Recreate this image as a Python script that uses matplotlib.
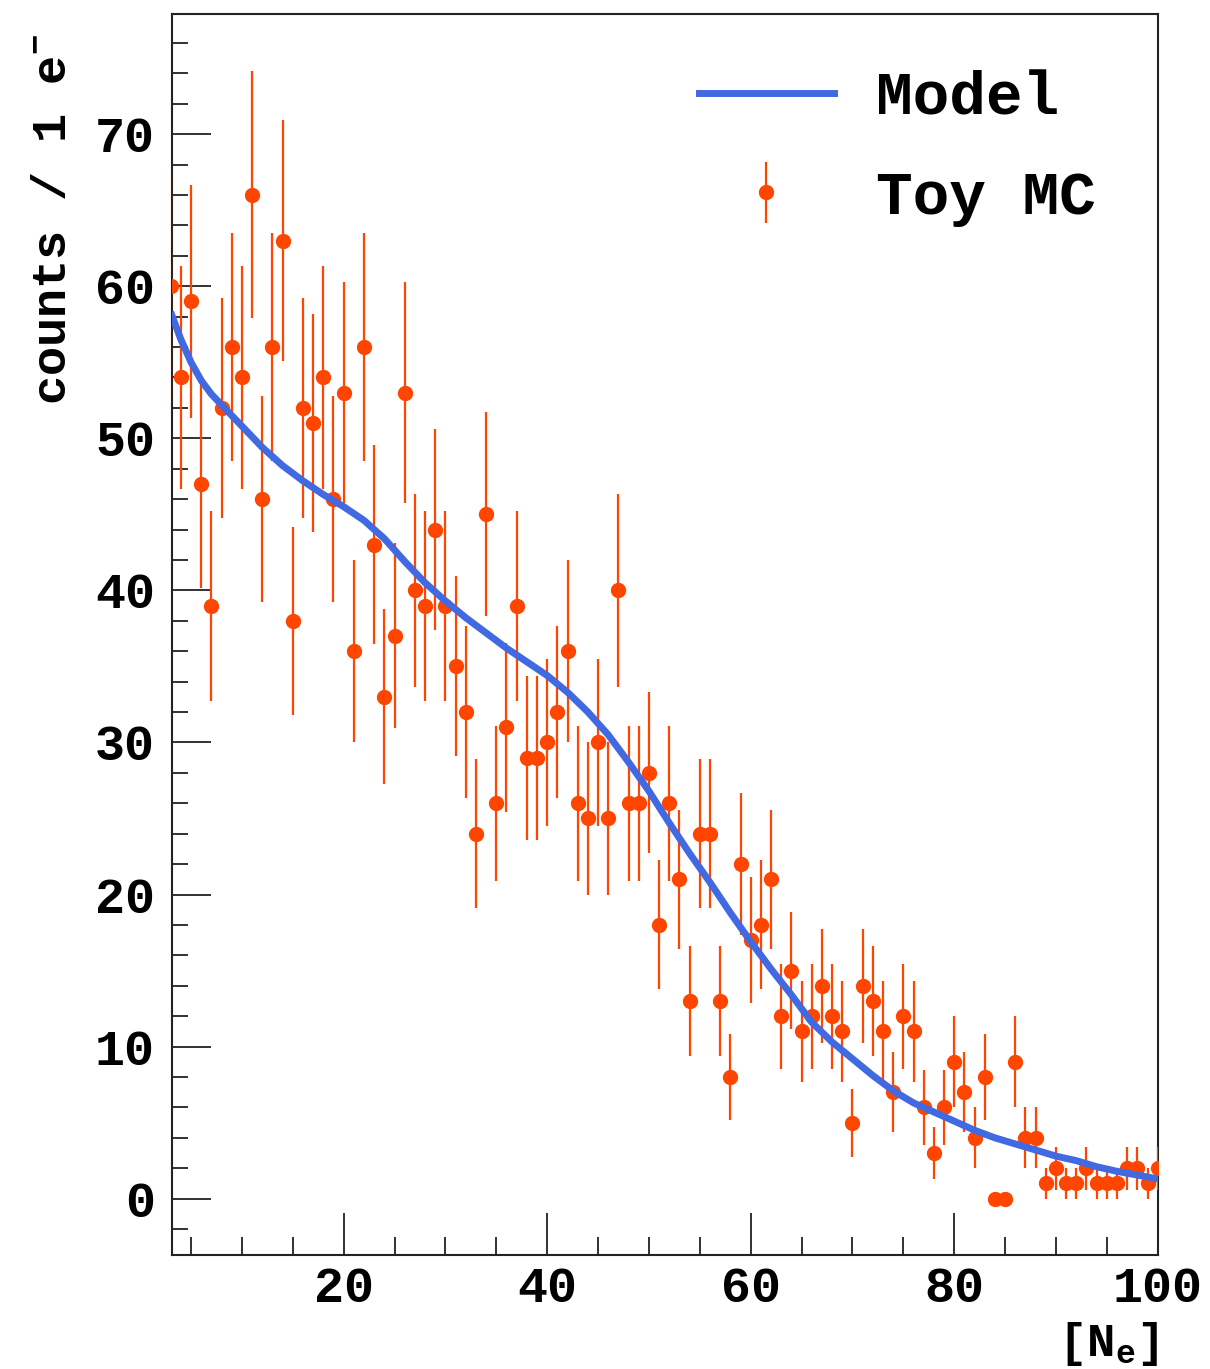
import numpy as np
import matplotlib
matplotlib.use("Agg")
import matplotlib.pyplot as plt
from matplotlib.lines import Line2D

# toy MC counts per 1 e- bin (N_e = 3 .. 100)
n_e = list(range(3, 101))
counts = [60, 54, 59, 47, 39, 52, 56, 54, 66, 46,
          56, 63, 38, 52, 51, 54, 46, 53, 36, 56,
          43, 33, 37, 53, 40, 39, 44, 39, 35, 32,
          24, 45, 26, 31, 39, 29, 29, 30, 32, 36,
          26, 25, 30, 25, 40, 26, 26, 28, 18, 26,
          21, 13, 24, 24, 13, 8, 22, 17, 18, 21,
          12, 15, 11, 12, 14, 12, 11, 5, 14, 13,
          11, 7, 12, 11, 6, 3, 6, 9, 7, 4,
          8, 0, 0, 9, 4, 4, 1, 2, 1, 1,
          2, 1, 1, 1, 2, 2, 1, 2]

# model curve
model_x = [3, 3.5, 4, 5, 6, 7, 8, 10, 12, 14, 16, 18, 20, 22, 24, 26, 28, 30,
           32, 34, 36, 38, 40, 42, 44, 46, 48, 50, 52, 54, 56, 58, 60, 62, 64,
           66, 68, 70, 72, 74, 76, 78, 80, 82, 84, 86, 88, 90, 92, 94, 96, 98,
           100]
model_y = [58.3, 57.4, 56.5, 55.0, 53.8, 52.9, 52.2, 50.8, 49.4, 48.2, 47.2,
           46.3, 45.5, 44.6, 43.4, 41.9, 40.5, 39.3, 38.2, 37.2, 36.2, 35.3,
           34.4, 33.3, 32.0, 30.5, 28.7, 26.8, 24.7, 22.7, 20.8, 18.8, 16.9,
           15.1, 13.4, 11.6, 10.3, 9.2, 8.1, 7.1, 6.3, 5.7, 5.1, 4.5, 4.0, 3.6,
           3.2, 2.8, 2.5, 2.1, 1.8, 1.55, 1.3]

FONT = "Liberation Mono"
plt.rcParams["font.family"] = [FONT, "DejaVu Sans Mono"]
plt.rcParams["font.weight"] = "bold"
plt.rcParams["axes.labelweight"] = "bold"
plt.rcParams["mathtext.fontset"] = "custom"
plt.rcParams["mathtext.rm"] = FONT + ":bold"
plt.rcParams["mathtext.it"] = FONT + ":bold"
plt.rcParams["mathtext.bf"] = FONT + ":bold"


def main():
    fig = plt.figure(figsize=(12.1, 13.69), dpi=100)
    ax = fig.add_axes([0.1419, 0.0833, 0.8149, 0.9065])

    x = np.array(n_e)
    y = np.array(counts, dtype=float)
    err = np.sqrt(y)
    ax.errorbar(x, y, yerr=err, fmt="o", color="#ff4500", ms=10,
                elinewidth=1.6, capsize=0, zorder=3)
    ax.plot(model_x, model_y, color="#4169e1", lw=5, zorder=4,
            solid_capstyle="butt", solid_joinstyle="round")

    ax.set_xlim(3.1, 100)
    ax.set_ylim(-3.7, 77.9)
    ax.set_xticks([20, 40, 60, 80, 100])
    ax.set_xticks(np.arange(5, 100, 5), minor=True)
    ax.set_yticks(np.arange(0, 71, 10))
    ax.set_yticks(np.arange(-2, 78, 2), minor=True)

    ax.tick_params(which="both", direction="in", top=False, right=False,
                   width=1.3, color="#222222")
    ax.tick_params(which="major", axis="y", length=28, pad=12, labelsize=36)
    ax.tick_params(which="minor", axis="y", length=11.5)
    ax.tick_params(which="major", axis="x", length=30, pad=8, labelsize=36)
    ax.tick_params(which="minor", axis="x", length=13)
    for sp in ax.spines.values():
        sp.set_linewidth(1.5)
        sp.set_color("#222222")

    ax.set_ylabel("counts / 1 e$^{-}$", fontsize=35, loc="top")
    ax.yaxis.set_label_coords(-0.097, 0.984)
    ax.set_xlabel("[N$_{e}$]", fontsize=34, loc="right", labelpad=6)

    h_model = Line2D([], [], color="#4169e1", lw=5)
    h_mc = ax.errorbar([], [], yerr=[], fmt="o", color="#ff4500", ms=10,
                       elinewidth=1.6, capsize=0)
    ax.legend([h_model, h_mc], ["Model", "Toy MC"], frameon=False,
              loc="upper left", bbox_to_anchor=(0.535, 0.955),
              borderaxespad=0, borderpad=0, fontsize=44,
              handlelength=2.2, handletextpad=0.7, labelspacing=0.68)

    fig.savefig("out.png", dpi=100)


if __name__ == "__main__":
    main()
